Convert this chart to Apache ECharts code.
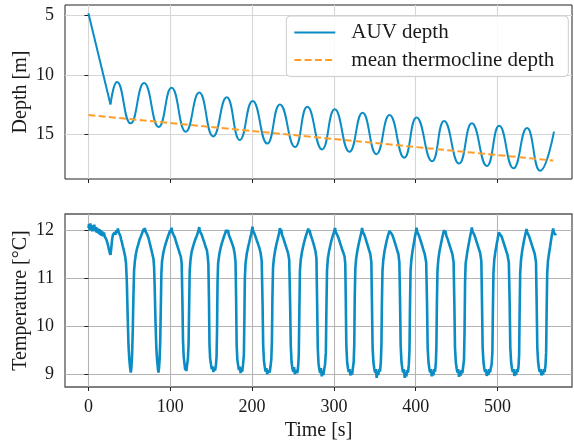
<!DOCTYPE html>
<html><head><meta charset="utf-8">
<script src="https://cdn.jsdelivr.net/npm/echarts@6/dist/echarts.min.js"></script>
<style>html,body{margin:0;padding:0;background:#fff}#c{width:574px;height:445px}</style>
</head><body><div id="c"></div><script>
// ---------- data ----------
const xTicks = [0, 100, 200, 300, 400, 500];
const depthTicks = [5, 10, 15];
const tempTicks = [9, 10, 11, 12];

// initial straight dive
const diveTime = [0, 27];
const diveDepth = [4.8, 12.5];
// oscillation turning points (s, m)
const yoyoTime = [27, 35, 51.5, 68, 86, 101.6, 119, 135.4, 152.5, 169, 185, 200.7, 218.6, 234, 252.5, 267.5, 285.5, 301, 319, 335, 352, 368, 386, 401, 420, 434.7, 453, 468.6, 487, 502, 519.5, 536, 552, 569];
const yoyoDepth = [12.5, 10.6, 14.1, 10.7, 14.4, 11.1, 14.8, 11.5, 15.2, 11.9, 15.5, 12.2, 15.8, 12.5, 16.1, 12.7, 16.3, 12.9, 16.5, 13.2, 16.7, 13.4, 17.0, 13.6, 17.3, 13.9, 17.5, 14.1, 17.7, 14.3, 17.9, 14.5, 18.1, 14.8];
// mean thermocline depth
const thermoTime = [0, 568];
const thermoDepth = [13.39, 17.24];

// temperature samples [s, degC]
const tempSamples = [
[0,12.04],[0.8,12.12],[1.6,11.99],[2.4,12.14],[3.2,12.01],[4,12.1],[4.8,11.97],[5.6,12.09],[6.4,12.0],[7.2,12.11],[8,11.98],[8.8,12.06],[9.6,11.95],[10.4,12.05],[11.2,11.94],[12,12.03],[12.8,11.92],[13.6,12.02],[14.4,11.9],[15.2,11.99],[16,11.88],[17,11.97],[18,11.87],[19,11.95],[20,11.86],[21,11.9],[22,11.8],[23,11.74],[24,11.68],[25,11.6],[26,11.53],[27,11.48],[28,11.63],[29,11.8],[30,11.9],[31,11.86],[32,11.95],[33,11.9],[34,11.99],[35,11.94],[36,12.03],[37,11.95],[38,11.98],[39,11.88],[40,11.8],[41,11.74],[42,11.66],[43,11.6],[44,11.52],[45,11.44],[46,11.3],
[47,10.9],[48,10.2],[49,9.6],[50,9.3],[51,9.12],[51.8,9.03],[52.6,9.15],[53.4,9.4],[54.2,9.9],[55,10.6],[55.8,11.15],[56.8,11.35],
[58,11.5],[59.5,11.62],[61,11.7],[62.5,11.8],[64,11.86],[65.5,11.93],[66.5,11.97],[67.5,12.02],[68.3,11.96],[69,12.04],[69.8,11.97],[70.6,12.01],[71.5,11.92],[72.5,11.9],[73.5,11.83],[74.5,11.76],[75.5,11.69],[76.5,11.62],[77.5,11.55],[78.5,11.47],[79.5,11.4],[80.3,11.22],
[81,10.8],[82,10.1],[83,9.55],[84,9.28],[85,9.1],[85.6,9.03],[86.3,9.12],[87,9.3],[87.8,9.7],[88.5,10.4],[89.2,11.1],[90,11.35],
[91.5,11.52],[93,11.63],[94.5,11.72],[96,11.8],[97.5,11.88],[99,11.94],[100,12.0],[100.8,11.95],[101.6,12.05],[102.4,11.96],[103.2,12.0],[104,11.9],[105.5,11.85],[107,11.76],[108.5,11.68],[110,11.6],[111.5,11.52],[113,11.44],[114,11.3],
[114.8,10.6],[115.6,9.7],[116.5,9.35],[117.5,9.2],[118.3,9.08],[119,9.15],[119.8,9.06],[120.5,9.18],[121.5,9.3],[122.4,9.6],[123.1,10.4],[123.8,11.15],[124.8,11.38],
[126.2,11.55],[127.8,11.65],[129.4,11.74],[131,11.82],[132.5,11.88],[133.8,11.95],[134.6,12.0],[135.4,12.06],[136.2,11.97],[137,12.01],[138,11.92],[139.2,11.86],[140.6,11.79],[142,11.72],[143.4,11.64],[144.8,11.58],[145.8,11.45],[146.6,11.3],
[147.3,10.6],[148,9.6],[148.8,9.32],[149.8,9.2],[150.8,9.1],[151.8,9.16],[152.8,9.04],[153.8,9.13],[154.8,9.07],[155.8,9.18],[156.6,9.35],[157.2,9.9],[157.8,10.9],[158.5,11.3],
[160,11.5],[161.5,11.62],[163,11.72],[164.5,11.8],[166,11.88],[167.2,11.93],[168.2,12.0],[169,12.03],[169.8,11.95],[170.6,12.0],[171.6,11.9],[173,11.84],[174.5,11.77],[176,11.7],[177.5,11.62],[178.8,11.5],[179.8,11.33],
[180.5,10.6],[181.2,9.6],[182,9.3],[183,9.18],[184,9.08],[185,9.15],[186,9.02],[187,9.1],[188,9.05],[189,9.2],[190,9.4],[190.6,10.1],[191.2,11.0],[192,11.3],
[193.5,11.5],[195,11.63],[196.5,11.74],[197.8,11.84],[199,11.92],[199.8,12.0],[200.5,12.07],[201.2,11.98],[202,12.02],[203,11.92],[204.5,11.85],[206,11.77],[207.5,11.7],[209,11.62],[210.5,11.52],[211.8,11.35],
[212.8,10.5],[213.6,9.6],[214.5,9.28],[215.5,9.15],[216.5,9.05],[217.5,9.12],[218.5,9.0],[219.5,8.96],[220.5,9.08],[221.5,9.03],[222.5,9.15],[223.5,9.3],[224.3,9.7],[224.9,10.6],[225.6,11.2],[226.5,11.38],
[228,11.55],[229.5,11.68],[231,11.79],[232.3,11.88],[233.3,11.95],[234,12.04],[234.8,11.96],[235.6,12.01],[236.6,11.9],[238,11.84],[239.5,11.76],[241,11.68],[242.5,11.6],[244,11.52],[245.4,11.38],
[246.5,10.5],[247.3,9.6],[248.3,9.25],[249.3,9.12],[250.3,9.05],[251.3,9.14],[252.3,9.0],[253.3,8.97],[254.3,9.08],[255.3,9.02],[256.3,9.15],[257.1,9.4],[257.8,10.3],[258.5,11.15],[259.5,11.38],
[261,11.54],[262.5,11.66],[264,11.77],[265.5,11.86],[266.8,11.93],[267.8,11.98],[268.7,12.03],[269.5,11.95],[270.4,12.0],[271.5,11.9],[273,11.83],[274.5,11.75],[276,11.66],[277.5,11.56],[278.7,11.4],
[279.5,10.5],[280.3,9.55],[281.2,9.22],[282.2,9.1],[283.2,9.02],[284.2,9.12],[285.2,8.95],[286.2,9.05],[287.2,8.98],[288.2,9.1],[289.2,9.2],[290.2,9.45],[290.9,10.4],[291.6,11.15],[292.6,11.4],
[294,11.55],[295.5,11.67],[297,11.78],[298.5,11.87],[299.8,11.94],[300.6,11.98],[301.4,12.04],[302.2,11.96],[303,12.0],[304,11.9],[305.5,11.84],[307,11.76],[308.5,11.68],[310,11.6],[311.5,11.53],[313,11.45],[313.9,11.3],
[314.5,10.6],[315.2,9.6],[316.2,9.25],[317.2,9.12],[318.2,9.04],[319.2,9.1],[320.2,8.97],[321.2,9.06],[322.2,8.99],[323.2,9.12],[324.2,9.25],[324.9,9.6],[325.5,10.6],[326.2,11.2],[327.2,11.4],
[328.6,11.56],[330,11.68],[331.4,11.79],[332.6,11.88],[333.6,11.95],[334.5,12.04],[335.3,11.96],[336.1,12.0],[337.2,11.9],[338.6,11.83],[340,11.75],[341.5,11.67],[343,11.58],[344.5,11.5],[345.8,11.33],
[346.5,10.5],[347.3,9.55],[348.3,9.25],[349.3,9.12],[350.3,9.03],[351.3,9.1],[352.3,8.92],[353.3,9.04],[354.3,8.98],[355.3,9.1],[356.3,9.05],[357.3,9.22],[358.1,9.6],[358.7,10.5],[359.4,11.15],[360.4,11.38],
[361.8,11.55],[363.2,11.67],[364.6,11.78],[365.9,11.87],[367,11.93],[367.9,11.98],[368.6,12.02],[369.4,11.95],[370.2,11.99],[371.3,11.9],[372.8,11.83],[374.3,11.75],[375.8,11.67],[377.3,11.58],[378.8,11.5],[380,11.33],
[380.8,10.6],[381.6,9.6],[382.6,9.25],[383.6,9.12],[384.6,9.03],[385.6,9.1],[386.6,8.92],[387.6,9.0],[388.6,8.95],[389.6,9.08],[390.6,9.03],[391.6,9.2],[392.4,9.5],[393,10.4],[393.7,11.15],[394.7,11.38],
[396,11.55],[397.3,11.68],[398.5,11.8],[399.5,11.9],[400.3,11.97],[401,12.05],[401.8,11.96],[402.6,12.0],[403.6,11.9],[405,11.83],[406.5,11.75],[408,11.67],[409.5,11.58],[411,11.5],[412.8,11.33],
[413.8,10.5],[414.6,9.55],[415.6,9.25],[416.6,9.12],[417.6,9.03],[418.6,9.1],[419.6,8.95],[420.6,9.05],[421.6,8.97],[422.6,9.1],[423.6,9.05],[424.6,9.22],[425.3,9.6],[425.9,10.5],[426.6,11.15],[427.6,11.38],
[429,11.55],[430.4,11.67],[431.7,11.78],[432.8,11.87],[433.8,11.94],[434.7,12.0],[435.5,11.93],[436.3,11.98],[437.4,11.88],[438.8,11.82],[440.3,11.74],[441.8,11.66],[443.3,11.58],[444.8,11.5],[446.3,11.33],
[447.2,10.5],[448,9.55],[449,9.25],[450,9.12],[451,9.03],[452,9.1],[453,8.94],[454,9.04],[455,8.97],[456,9.08],[457,9.02],[458,9.15],[459,9.3],[459.7,9.9],[460.3,10.9],[461,11.3],[462,11.42],
[463.3,11.57],[464.6,11.69],[465.8,11.8],[466.9,11.9],[467.8,11.97],[468.6,12.05],[469.4,11.97],[470.2,12.01],[471.3,11.91],[472.8,11.84],[474.3,11.76],[475.8,11.68],[477.3,11.6],[478.8,11.52],[480.2,11.35],
[481,10.5],[481.8,9.55],[482.8,9.25],[483.8,9.12],[484.8,9.04],[485.8,9.1],[486.8,8.96],[487.8,9.05],[488.8,8.98],[489.8,9.1],[490.8,9.03],[491.8,9.12],[492.8,9.2],[493.7,9.45],[494.3,10.3],[495,11.1],[496,11.38],
[497.4,11.55],[498.7,11.68],[499.9,11.79],[500.8,11.88],[501.5,11.95],[502.2,11.99],[503,11.92],[503.8,11.96],[504.8,11.87],[506.2,11.8],[507.7,11.72],[509.2,11.64],[510.7,11.56],[512.2,11.48],[513.8,11.32],
[514.8,10.5],[515.6,9.55],[516.6,9.25],[517.6,9.12],[518.6,9.04],[519.6,9.1],[520.6,8.96],[521.6,9.05],[522.6,8.98],[523.6,9.1],[524.6,9.04],[525.6,9.15],[526.4,9.4],[527,10.3],[527.7,11.1],[528.7,11.38],
[530,11.55],[531.3,11.68],[532.5,11.79],[533.6,11.88],[534.6,11.95],[535.4,12.02],[536.2,11.95],[537,11.99],[538.1,11.89],[539.5,11.82],[541,11.74],[542.5,11.66],[544,11.58],[545.5,11.5],[547,11.33],
[547.8,10.5],[548.6,9.55],[549.6,9.25],[550.6,9.12],[551.6,9.04],[552.6,9.1],[553.6,8.97],[554.6,9.06],[555.6,8.99],[556.6,9.1],[557.6,9.04],[558.6,9.18],[559.4,9.45],[560,10.3],[560.7,11.1],[561.6,11.35],
[563,11.52],[564.3,11.66],[565.5,11.8],[566.5,11.9],[567.3,11.97],[568,12.03],[568.8,11.95],[569.6,11.99],[570.5,11.9],[571.3,11.93]
];

// ---------- chart ----------
const FONT = 'Liberation Serif';
const TXT = '#1a1a1a';
const BLUE = '#0a8cc4';
const ORANGE = '#ff9f2a';
const zip = (a, b) => a.map((v, i) => [v, b[i]]);

function xAx(grid, showLabel, gridColor) {
  return {
    type: 'value', gridIndex: grid, min: -28.6, max: 591,
    axisLine: { show: false },
    axisTick: { show: true, customValues: xTicks, length: 4, lineStyle: { color: '#222', width: 1 } },
    axisLabel: { show: showLabel, customValues: xTicks, margin: 11, fontFamily: FONT, fontSize: 18, color: TXT },
    splitLine: { show: true, lineStyle: { color: gridColor, width: 1.1 } },
    name: showLabel ? 'Time [s]' : '', nameLocation: 'middle', nameGap: 34, nameMoveOverlap: false,
    nameTextStyle: { fontFamily: FONT, fontSize: 20, color: TXT }
  };
}
function yAx(grid, ticks, min, max, inverse, name, gridColor) {
  return {
    type: 'value', gridIndex: grid, min: min, max: max, inverse: inverse,
    axisLine: { show: false },
    axisTick: { show: true, customValues: ticks, length: 4, lineStyle: { color: '#222', width: 1 } },
    axisLabel: { show: true, customValues: ticks, margin: 11, fontFamily: FONT, fontSize: 18, color: TXT },
    splitLine: { show: true, lineStyle: { color: gridColor, width: 1.1 } },
    name: name, nameLocation: 'middle', nameGap: 34, nameRotate: 90, nameMoveOverlap: false,
    nameTextStyle: { fontFamily: FONT, fontSize: 20, color: TXT }
  };
}

const chart = echarts.init(document.getElementById('c'), null, { renderer: 'canvas' });
chart.setOption({
  animation: false,
  backgroundColor: '#ffffff',
  grid: [
    { left: 65, top: 5, width: 507, height: 174, show: true, borderColor: '#222', borderWidth: 1, backgroundColor: 'transparent', outerBoundsMode: 'none' },
    { left: 65, top: 214, width: 507, height: 173, show: true, borderColor: '#555', borderWidth: 1.3, backgroundColor: 'transparent', outerBoundsMode: 'none' }
  ],
  xAxis: [xAx(0, false, '#d6d6d6'), xAx(1, true, '#b4b4b4')],
  yAxis: [
    yAx(0, depthTicks, 4.1, 18.8, true, 'Depth [m]', '#d6d6d6'),
    yAx(1, tempTicks, 8.729, 12.333, false, 'Temperature [°C]', '#b4b4b4')
  ],
  legend: {
    data: ['AUV depth', 'mean thermocline depth'],
    orient: 'vertical', right: 5.7, top: 16,
    itemWidth: 41, itemHeight: 14, itemGap: 5.6,
    padding: [5.5, 9, 5.5, 7],
    itemStyle: { opacity: 0 },
    backgroundColor: 'rgba(255,255,255,0.85)', borderColor: '#cccccc', borderWidth: 1, borderRadius: 4,
    textStyle: { fontFamily: FONT, fontSize: 21, color: TXT, lineHeight: 22, width: 208, padding: [0, 0, 0, 11] }
  },
  series: [
    { name: 'AUV depth', type: 'line', xAxisIndex: 0, yAxisIndex: 0, data: zip(diveTime, diveDepth),
      symbol: 'none', color: BLUE, lineStyle: { color: BLUE, width: 2 } },
    { name: 'AUV depth', type: 'line', xAxisIndex: 0, yAxisIndex: 0, data: zip(yoyoTime, yoyoDepth),
      symbol: 'none', smooth: 0.5, color: BLUE, lineStyle: { color: BLUE, width: 2 } },
    { name: 'mean thermocline depth', type: 'line', xAxisIndex: 0, yAxisIndex: 0, data: zip(thermoTime, thermoDepth),
      symbol: 'none', color: ORANGE, lineStyle: { color: ORANGE, width: 2, type: [7, 3.3] } },
    { name: 'temperature', type: 'line', xAxisIndex: 1, yAxisIndex: 1, data: tempSamples,
      symbol: 'none', color: BLUE, lineStyle: { color: BLUE, width: 2.6 } }
  ]
});
</script></body></html>
